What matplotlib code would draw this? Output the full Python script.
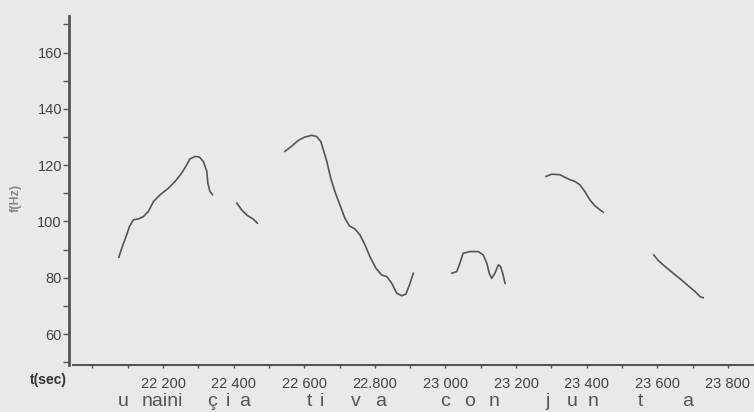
import matplotlib.pyplot as plt
from matplotlib.ticker import FixedLocator, MultipleLocator
from matplotlib.transforms import blended_transform_factory

# F0 contour pieces, time in ms, frequency in Hz
seg1_t = [22075, 22083, 22092, 22105, 22116, 22130, 22144, 22158, 22173, 22192, 22215,
          22234, 22253, 22267, 22276, 22291, 22303, 22314, 22324, 22327, 22333, 22340]
seg1_f = [87.3, 90.5, 93.5, 98.2, 100.6, 100.9, 101.7, 103.5, 107.1, 109.5, 111.8,
          114.2, 117.2, 120.1, 122.2, 123.1, 122.9, 121.3, 117.8, 113.6, 110.6, 109.5]

seg2_t = [22409, 22423, 22437, 22456, 22467]
seg2_f = [106.5, 104.1, 102.3, 100.8, 99.4]

seg3_t = [22545, 22564, 22583, 22602, 22621, 22635, 22647, 22654, 22664, 22675, 22687,
          22701, 22715, 22728, 22744, 22758, 22772, 22786, 22803, 22819, 22834, 22848,
          22862, 22876, 22888, 22898, 22909]
seg3_f = [124.9, 126.7, 128.8, 130.0, 130.6, 130.2, 128.4, 125.5, 121.3, 115.4, 110.6,
          105.9, 101.2, 98.4, 97.3, 95.2, 91.7, 87.5, 83.4, 81.0, 80.4, 78.0,
          74.5, 73.6, 74.2, 77.4, 81.6]

seg4_t = [23018, 23032, 23041, 23050, 23069, 23093, 23107, 23117, 23124, 23131, 23140,
          23150, 23156, 23162, 23169]
seg4_f = [81.6, 82.2, 85.2, 88.7, 89.3, 89.3, 88.1, 85.2, 81.6, 79.8, 81.6,
          84.6, 84.0, 81.6, 78.0]

seg5_t = [23285, 23301, 23324, 23348, 23367, 23381, 23395, 23409, 23423, 23438, 23447]
seg5_f = [116.0, 116.8, 116.6, 115.1, 114.2, 113.0, 110.6, 107.7, 105.6, 104.1, 103.3]

seg6_t = [23590, 23603, 23622, 23645, 23669, 23688, 23707, 23721, 23730]
seg6_f = [88.1, 86.1, 84.0, 81.6, 79.2, 77.1, 75.1, 73.3, 72.9]

segments = [(seg1_t, seg1_f), (seg2_t, seg2_f), (seg3_t, seg3_f),
            (seg4_t, seg4_f), (seg5_t, seg5_f), (seg6_t, seg6_f)]

x_ticks = [22200, 22400, 22600, 22800, 23000, 23200, 23400, 23600, 23800]
x_labels = ["22 200", "22 400", "22 600", "22.800", "23 000", "23 200", "23 400", "23 600", "23 800"]
y_ticks = [60, 80, 100, 120, 140, 160]

# phonetic transcription under the time axis
phones = ["u", "naini", "ç", "i", "a", "t", "i", "v", "a",
          "c", "o", "n", "j", "u", "n", "t", "a"]
phone_t = [22087, 22197, 22339, 22384, 22432, 22616, 22650,
           22747, 22815, 22999, 23067, 23137, 23290, 23358, 23418, 23551, 23687]

bg = "#e9e9e9"
ink = "#555555"
sans = ["Liberation Sans", "DejaVu Sans"]

fig = plt.figure(figsize=(7.54, 4.12), dpi=100, facecolor=bg)
ax = fig.add_axes([73 / 754, 47 / 412, 1 - 73 / 754, 349 / 412])
ax.set_facecolor(bg)

for t, f in segments:
    ax.plot(t, f, color=ink, lw=1.2)

ax.set_xlim(21945, 23874)
ax.set_ylim(49, 173)

for s in ["top", "right"]:
    ax.spines[s].set_visible(False)
ax.spines["left"].set_position(("outward", 3))
ax.spines["left"].set_linewidth(2)
ax.spines["left"].set_color(ink)
ax.spines["bottom"].set_linewidth(1.5)
ax.spines["bottom"].set_color(ink)

ax.xaxis.set_major_locator(FixedLocator(x_ticks))
ax.set_xticklabels(x_labels)
ax.xaxis.set_minor_locator(MultipleLocator(100))
ax.yaxis.set_major_locator(FixedLocator(y_ticks))
ax.yaxis.set_minor_locator(MultipleLocator(10))

for lab in ax.get_xticklabels() + ax.get_yticklabels():
    lab.set_fontfamily(sans)
    lab.set_fontsize(10.5)
    lab.set_color("#444444")

ax.tick_params(axis="x", which="major", length=2, width=1, color=ink, pad=7)
ax.tick_params(axis="x", which="minor", length=2, width=1, color=ink)
ax.tick_params(axis="y", which="both", length=4, width=1, color=ink, pad=1)

fig.text(48 / 754, 1 - 380 / 412, "t(sec)", ha="center", va="center",
         fontsize=10, fontweight="bold", color="#333333", family=sans)
fig.text(16 / 754, 1 - 198 / 412, "f(Hz)", ha="center", va="center", rotation=90,
         fontsize=9, fontweight="bold", color="#888888", family=sans)

trans = blended_transform_factory(ax.transData, fig.transFigure)
for ph, t in zip(phones, phone_t):
    ax.text(t, 0.014, ph, transform=trans, ha="center", va="baseline",
            fontsize=14, color="#555555", clip_on=False, family=sans)

fig.savefig("out.png", dpi=100, facecolor=bg)
